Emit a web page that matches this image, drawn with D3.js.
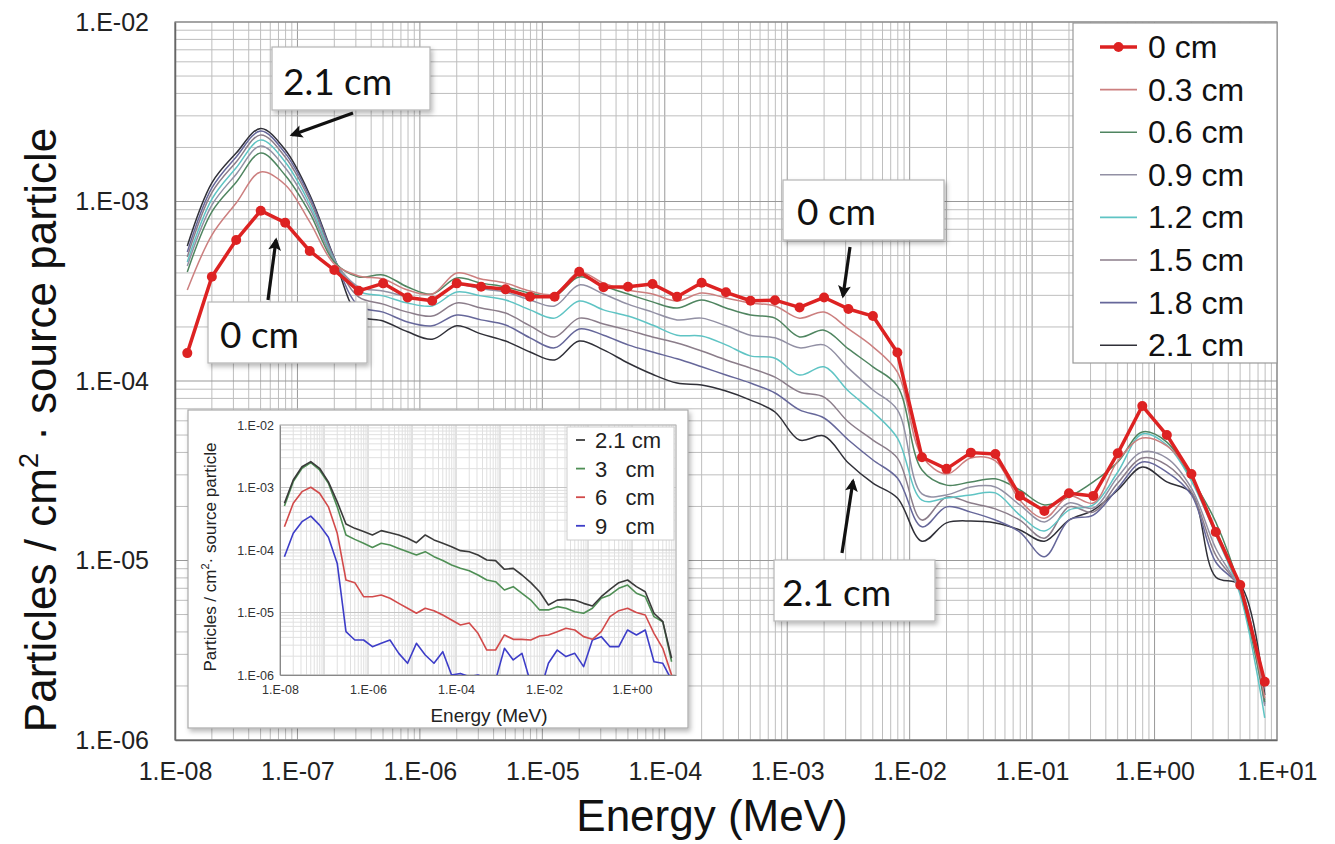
<!DOCTYPE html>
<html><head><meta charset="utf-8">
<script src="https://cdn.jsdelivr.net/npm/d3@7"></script>
<style>body{margin:0;background:#fff}svg{display:block}</style>
</head><body><svg id="c" width="1335" height="844"></svg>
<script>
// ---------- DATA ----------
const energies = [
 1.26e-8,2.00e-8,3.16e-8,5.01e-8,7.94e-8,
 1.26e-7,2.00e-7,3.16e-7,5.01e-7,7.94e-7,
 1.26e-6,2.00e-6,3.16e-6,5.01e-6,7.94e-6,
 1.26e-5,2.00e-5,3.16e-5,5.01e-5,7.94e-5,
 1.26e-4,2.00e-4,3.16e-4,5.01e-4,7.94e-4,
 1.26e-3,2.00e-3,3.16e-3,5.01e-3,7.94e-3,
 1.26e-2,2.00e-2,3.16e-2,5.01e-2,7.94e-2,
 1.26e-1,2.00e-1,3.16e-1,5.01e-1,7.94e-1,
 1.26e+0,2.00e+0,3.16e+0,5.01e+0,7.94e+0];

const depthLabels = ["0 cm","0.3 cm","0.6 cm","0.9 cm","1.2 cm","1.5 cm","1.8 cm","2.1 cm"];

const flux_0cm = [
 1.43e-4,3.81e-4,6.10e-4,8.89e-4,7.62e-4,5.30e-4,4.15e-4,3.18e-4,3.50e-4,2.92e-4,
 2.80e-4,3.50e-4,3.35e-4,3.24e-4,2.95e-4,2.95e-4,4.06e-4,3.33e-4,3.35e-4,3.47e-4,
 2.95e-4,3.53e-4,3.12e-4,2.80e-4,2.82e-4,2.57e-4,2.92e-4,2.52e-4,2.30e-4,1.44e-4,
 3.76e-5,3.24e-5,3.99e-5,3.92e-5,2.29e-5,1.89e-5,2.37e-5,2.29e-5,3.96e-5,7.26e-5,
 5.00e-5,3.03e-5,1.44e-5,7.31e-6,2.11e-6];
const flux_03cm = [
 3.21e-4,6.50e-4,9.81e-4,1.46e-3,1.24e-3,7.69e-4,4.49e-4,3.85e-4,3.70e-4,3.21e-4,
 3.05e-4,4.00e-4,3.70e-4,3.51e-4,3.17e-4,3.05e-4,4.05e-4,3.51e-4,3.21e-4,3.05e-4,
 2.79e-4,3.09e-4,2.90e-4,2.72e-4,2.62e-4,2.24e-4,2.42e-4,1.95e-4,1.55e-4,1.12e-4,
 3.82e-5,3.03e-5,3.72e-5,3.59e-5,2.17e-5,1.72e-5,2.29e-5,2.09e-5,3.59e-5,4.81e-5,
 4.35e-5,2.96e-5,1.48e-5,7.03e-6,1.71e-6];
const flux_06cm = [
 4.05e-4,8.76e-4,1.28e-3,1.86e-3,1.40e-3,8.63e-4,4.60e-4,3.80e-4,3.90e-4,3.34e-4,
 3.05e-4,3.75e-4,3.51e-4,3.34e-4,3.09e-4,2.98e-4,3.80e-4,3.38e-4,3.05e-4,2.76e-4,
 2.55e-4,2.83e-4,2.55e-4,2.33e-4,2.24e-4,1.76e-4,1.92e-4,1.51e-4,1.20e-4,9.37e-5,
 3.19e-5,2.63e-5,2.74e-5,2.85e-5,2.47e-5,2.04e-5,2.26e-5,2.74e-5,3.54e-5,5.20e-5,
 4.57e-5,2.88e-5,1.64e-5,6.85e-6,1.63e-6];
const flux_09cm = [
 4.37e-4,9.55e-4,1.42e-3,2.04e-3,1.54e-3,9.18e-4,4.66e-4,3.34e-4,3.17e-4,2.94e-4,
 2.83e-4,3.43e-4,3.26e-4,3.13e-4,2.83e-4,2.62e-4,3.43e-4,3.05e-4,2.68e-4,2.42e-4,
 2.19e-4,2.24e-4,2.03e-4,1.80e-4,1.74e-4,1.53e-4,1.59e-4,1.18e-4,8.91e-5,6.90e-5,
 2.35e-5,2.32e-5,2.57e-5,2.57e-5,2.04e-5,1.64e-5,2.09e-5,1.96e-5,2.92e-5,4.02e-5,
 3.72e-5,2.53e-5,1.17e-5,6.67e-6,1.55e-6];
const flux_12cm = [
 4.60e-4,1.03e-3,1.54e-3,2.20e-3,1.66e-3,9.67e-4,4.72e-4,3.17e-4,2.98e-4,2.72e-4,
 2.62e-4,3.13e-4,2.98e-4,2.83e-4,2.49e-4,2.24e-4,2.79e-4,2.49e-4,2.30e-4,2.05e-4,
 1.80e-4,1.78e-4,1.59e-4,1.38e-4,1.34e-4,1.08e-4,1.20e-4,8.79e-5,6.72e-5,4.81e-5,
 2.17e-5,2.23e-5,2.32e-5,2.38e-5,1.79e-5,1.46e-5,1.91e-5,2.04e-5,3.11e-5,5.07e-5,
 4.40e-5,2.77e-5,1.39e-5,6.42e-6,1.33e-6];
const flux_15cm = [
 4.91e-4,1.12e-3,1.66e-3,2.35e-3,1.77e-3,1.02e-3,4.78e-4,2.94e-4,2.68e-4,2.42e-4,
 2.30e-4,2.72e-4,2.55e-4,2.39e-4,2.03e-4,1.76e-4,2.24e-4,2.08e-4,1.92e-4,1.76e-4,
 1.63e-4,1.47e-4,1.31e-4,1.18e-4,1.05e-4,8.68e-5,8.14e-5,5.91e-5,4.69e-5,3.72e-5,
 1.68e-5,2.26e-5,2.09e-5,1.94e-5,1.68e-5,1.33e-5,1.99e-5,1.86e-5,2.70e-5,3.72e-5,
 3.40e-5,2.41e-5,1.07e-5,6.85e-6,1.67e-6];
const flux_18cm = [
 5.23e-4,1.19e-3,1.77e-3,2.47e-3,1.86e-3,1.06e-3,4.84e-4,2.62e-4,2.42e-4,2.13e-4,
 2.03e-4,2.33e-4,2.19e-4,2.05e-4,1.74e-4,1.53e-4,1.95e-4,1.80e-4,1.59e-4,1.45e-4,
 1.33e-4,1.20e-4,1.08e-4,9.74e-5,8.57e-5,6.90e-5,6.22e-5,4.69e-5,3.63e-5,2.88e-5,
 1.54e-5,1.99e-5,1.86e-5,1.68e-5,1.44e-5,1.05e-5,1.68e-5,1.79e-5,2.53e-5,3.54e-5,
 3.11e-5,2.32e-5,9.81e-6,7.03e-6,1.59e-6];
const flux_21cm = [
 5.65e-4,1.27e-3,1.86e-3,2.55e-3,1.94e-3,1.09e-3,4.84e-4,2.33e-4,2.16e-4,1.88e-4,
 1.71e-4,2.03e-4,1.83e-4,1.67e-4,1.45e-4,1.31e-4,1.67e-4,1.49e-4,1.26e-4,1.09e-4,
 9.74e-5,9.50e-5,8.79e-5,7.83e-5,6.72e-5,4.69e-5,4.94e-5,3.49e-5,2.70e-5,2.23e-5,
 1.28e-5,1.62e-5,1.66e-5,1.62e-5,1.48e-5,1.28e-5,1.68e-5,1.91e-5,2.47e-5,3.32e-5,
 2.74e-5,2.38e-5,8.09e-6,7.30e-6,1.78e-6];

// inset data
const insetLabels = ["2.1 cm","3   cm","6   cm","9   cm"];
const inset_21cm = [
 5.58e-4,1.32e-3,2.15e-3,2.59e-3,2.03e-3,1.23e-3,5.90e-4,2.61e-4,2.22e-4,1.97e-4,
 1.74e-4,2.04e-4,1.89e-4,1.74e-4,1.54e-4,1.31e-4,1.74e-4,1.45e-4,1.28e-4,1.13e-4,
 9.76e-5,9.40e-5,8.31e-5,6.93e-5,6.77e-5,4.91e-5,5.09e-5,3.98e-5,3.00e-5,2.15e-5,
 1.32e-5,1.58e-5,1.62e-5,1.58e-5,1.40e-5,1.27e-5,1.79e-5,2.35e-5,3.00e-5,3.31e-5,
 2.59e-5,2.15e-5,9.72e-6,7.13e-6,1.85e-6];
const inset_3cm = [
 5.06e-4,1.24e-3,2.03e-3,2.50e-3,1.91e-3,1.17e-3,4.90e-4,1.74e-4,1.48e-4,1.28e-4,
 1.10e-4,1.28e-4,1.20e-4,1.06e-4,9.40e-5,8.31e-5,9.40e-5,7.82e-5,6.77e-5,5.75e-5,
 5.09e-5,4.67e-5,3.98e-5,3.31e-5,3.11e-5,2.29e-5,2.59e-5,2.03e-5,1.58e-5,1.10e-5,
 1.10e-5,1.24e-5,1.17e-5,1.03e-5,9.72e-6,1.17e-5,1.69e-5,1.91e-5,2.44e-5,2.75e-5,
 2.03e-5,1.79e-5,8.58e-6,7.13e-6,1.63e-6];
const inset_6cm = [
 2.36e-4,5.58e-4,8.58e-4,1.01e-3,8.10e-4,4.90e-4,1.85e-4,3.30e-5,3.00e-5,1.79e-5,
 1.79e-5,1.91e-5,1.69e-5,1.40e-5,1.17e-5,9.72e-6,1.17e-5,1.07e-5,9.12e-6,7.58e-6,
 6.31e-6,6.81e-6,4.64e-6,2.51e-6,2.51e-6,4.37e-6,3.72e-6,3.72e-6,3.63e-6,4.21e-6,
 4.37e-6,4.94e-6,5.58e-6,5.25e-6,4.11e-6,3.72e-6,4.94e-6,8.58e-6,1.07e-5,1.17e-5,
 1.00e-5,9.12e-6,4.64e-6,2.67e-6,1.00e-6];
const inset_9cm = [
 7.82e-5,1.85e-4,2.84e-4,3.49e-4,2.50e-4,1.60e-4,6.10e-5,4.94e-6,3.63e-6,3.63e-6,
 2.84e-6,3.21e-6,3.63e-6,2.22e-6,1.54e-6,3.21e-6,2.09e-6,1.54e-6,2.36e-6,1.00e-6,
 1.06e-6,9.40e-7,1.00e-6,8.80e-7,8.30e-7,2.67e-6,1.74e-6,2.22e-6,7.30e-7,5.10e-7,
 1.54e-6,2.51e-6,1.97e-6,2.22e-6,1.36e-6,3.63e-6,4.11e-6,2.84e-6,2.84e-6,5.25e-6,
 4.37e-6,5.25e-6,1.63e-6,1.54e-6,8.30e-7];

const xDomain = [1e-8, 1e1];
const yDomain = [1e-6, 1e-2];
const xTickValues = [1e-8,1e-7,1e-6,1e-5,1e-4,1e-3,1e-2,1e-1,1e0,1e1];
const yTickValues = [1e-6,1e-5,1e-4,1e-3,1e-2];
const insetXTickValues = [1e-8,1e-6,1e-4,1e-2,1e0];

// ---------- DRAW ----------
const svg = d3.select('#c');
const defs = svg.append('defs');
const M = {l:175, r:1277, t:22, b:740};
const I = {l:280, r:676, t:425, b:675};
defs.append('clipPath').attr('id','clipMain').append('rect')
  .attr('x',M.l).attr('y',M.t).attr('width',M.r-M.l).attr('height',M.b-M.t);
defs.append('clipPath').attr('id','clipInset').append('rect')
  .attr('x',I.l).attr('y',I.t).attr('width',I.r-I.l).attr('height',I.b-I.t);
const flt = defs.append('filter').attr('id','shadow')
  .attr('x','-10%').attr('y','-10%').attr('width','125%').attr('height','130%');
flt.append('feDropShadow').attr('dx',2).attr('dy',3).attr('stdDeviation',2.5)
  .attr('flood-color','#000').attr('flood-opacity',0.28);
defs.append('marker').attr('id','arrow').attr('viewBox','0 0 10 10')
  .attr('refX',8).attr('refY',5).attr('markerWidth',4.2).attr('markerHeight',4)
  .attr('orient','auto').append('path').attr('d','M0,0 L10,5 L0,10 L2,5 z').attr('fill','#111');

svg.append('rect').attr('width',1335).attr('height',844).attr('fill','#fff');

const x = d3.scaleLog().domain(xDomain).range([M.l, M.r]);
const y = d3.scaleLog().domain(yDomain).range([M.b, M.t]);
const isMajor = v => Math.abs(Math.log10(v) - Math.round(Math.log10(v))) < 1e-6;
const fmtE = v => { const e = Math.round(Math.log10(v)); return '1.E' + (e < 0 ? '-' : '+') + String(Math.abs(e)).padStart(2,'0'); };

// grid
const g = svg.append('g');
x.ticks(40).forEach(v => {
  g.append('line').attr('x1',x(v)).attr('x2',x(v)).attr('y1',M.t).attr('y2',M.b)
   .attr('stroke', isMajor(v) ? '#999' : '#bebebe').attr('stroke-width',1);
});
y.ticks(40).forEach(v => {
  g.append('line').attr('y1',y(v)).attr('y2',y(v)).attr('x1',M.l).attr('x2',M.r)
   .attr('stroke', isMajor(v) ? '#999' : '#bebebe').attr('stroke-width',1);
});
g.append('rect').attr('x',M.l).attr('y',M.t).attr('width',M.r-M.l).attr('height',M.b-M.t)
 .attr('fill','none').attr('stroke','#8a8a8a').attr('stroke-width',1.2);

// axes
const tickFont = 'Liberation Sans, Arial, sans-serif';
const ax = svg.append('g').attr('transform',`translate(0,${M.b})`)
  .call(d3.axisBottom(x).tickValues(xTickValues).tickFormat(fmtE).tickSize(0).tickPadding(22));
ax.select('.domain').attr('stroke','#666').attr('stroke-width',1.5);
ax.selectAll('text').attr('font-family',tickFont).attr('font-size',25).attr('fill','#222');
const ay = svg.append('g').attr('transform',`translate(${M.l},0)`)
  .call(d3.axisLeft(y).tickValues(yTickValues).tickFormat(fmtE).tickSize(0).tickPadding(26));
ay.select('.domain').attr('stroke','#666').attr('stroke-width',1.5);
ay.selectAll('text').attr('font-family',tickFont).attr('font-size',25).attr('fill','#222');

// titles
svg.append('text').attr('x',712).attr('y',831).attr('text-anchor','middle')
  .attr('font-family',tickFont).attr('font-size',44).attr('fill','#111')
  .text('Energy (MeV)');
const yt = svg.append('text').attr('transform','translate(56,430) rotate(-90)').attr('text-anchor','middle')
  .attr('font-family',tickFont).attr('font-size',44).attr('fill','#111');
yt.append('tspan').text('Particles / cm');
yt.append('tspan').attr('font-size',27).attr('dy',-18).text('2');
yt.append('tspan').attr('dy',18).text(' \u00B7 source particle');

// series
const thin = [
  {label:depthLabels[7], data:flux_21cm, color:'#303038'},
  {label:depthLabels[6], data:flux_18cm, color:'#66679a'},
  {label:depthLabels[5], data:flux_15cm, color:'#8b7d8a'},
  {label:depthLabels[4], data:flux_12cm, color:'#5fc4c4'},
  {label:depthLabels[3], data:flux_09cm, color:'#9290a4'},
  {label:depthLabels[2], data:flux_06cm, color:'#4f8560'},
  {label:depthLabels[1], data:flux_03cm, color:'#cc7f7f'}
];
const red = '#dd2222';
const smooth = d3.line().x((d,i)=>x(energies[i])).y(d=>y(d)).curve(d3.curveCatmullRom.alpha(0.5));
const straight = d3.line().x((d,i)=>x(energies[i])).y(d=>y(d));
const sg = svg.append('g').attr('clip-path','url(#clipMain)');
thin.forEach(s => sg.append('path').attr('d',smooth(s.data)).attr('fill','none')
  .attr('stroke',s.color).attr('stroke-width',1.5));
sg.append('path').attr('d',straight(flux_0cm)).attr('fill','none').attr('stroke',red).attr('stroke-width',3.5)
  .attr('stroke-linejoin','round');
sg.selectAll('circle.m').data(flux_0cm).join('circle').attr('class','m')
  .attr('cx',(d,i)=>x(energies[i])).attr('cy',d=>y(d)).attr('r',5).attr('fill',red);

// annotation callouts
const font2 = 'Lato, Open Sans, sans-serif';
function callout(bx,by,bw,bh,tx,ty,txt){
  svg.append('rect').attr('x',bx).attr('y',by).attr('width',bw).attr('height',bh)
    .attr('fill','#fff').attr('stroke','#b5b5b5').attr('stroke-width',1.2).attr('filter','url(#shadow)');
  svg.append('text').attr('x',tx).attr('y',ty).attr('font-family',font2).attr('font-size',37)
    .attr('fill','#111').text(txt);
}
function arrow(x1,y1,x2,y2){
  svg.append('line').attr('x1',x1).attr('y1',y1).attr('x2',x2).attr('y2',y2)
    .attr('stroke','#111').attr('stroke-width',3.2).attr('marker-end','url(#arrow)');
}
callout(272,47,158,63,283,95,'2.1 cm');
callout(208,302,159,61,220,348,'0 cm');
callout(783,180,161,60,797,225,'0 cm');
callout(774,560,161,61,782,606,'2.1 cm');
arrow(353,113,292,135);
arrow(268,300,276,240);
arrow(850,247,843,296);
arrow(842,553,853,481);

// main legend
const lg = svg.append('g');
lg.append('rect').attr('x',1073).attr('y',23).attr('width',204).attr('height',340)
  .attr('fill','#fff').attr('stroke','#999').attr('stroke-width',1.2);
const legendItems = [{label:depthLabels[0], color:red, main:true}].concat(thin.slice().reverse());
legendItems.forEach((s,i) => {
  const cy = 47 + i*42.6;
  lg.append('line').attr('x1',1100).attr('x2',1137).attr('y1',cy).attr('y2',cy)
    .attr('stroke',s.color).attr('stroke-width', s.main ? 3.5 : 1.6);
  if (s.main) lg.append('circle').attr('cx',1118.5).attr('cy',cy).attr('r',5).attr('fill',red);
  lg.append('text').attr('x',1148).attr('y',cy+11).attr('font-family',tickFont)
    .attr('font-size',32).attr('fill','#111').text(s.label);
});

// ---------- INSET ----------
svg.append('rect').attr('x',188).attr('y',410).attr('width',500).attr('height',318)
  .attr('fill','#fff').attr('stroke','#aaa').attr('stroke-width',1.2).attr('filter','url(#shadow)');
const xi = d3.scaleLog().domain(xDomain).range([I.l, I.r]);
const yi = d3.scaleLog().domain(yDomain).range([I.b, I.t]);
const gi = svg.append('g');
xi.ticks(40).forEach(v => gi.append('line').attr('x1',xi(v)).attr('x2',xi(v)).attr('y1',I.t).attr('y2',I.b)
  .attr('stroke', isMajor(v) ? '#c4c4c4' : '#e0e0e0').attr('stroke-width',1));
yi.ticks(40).forEach(v => gi.append('line').attr('y1',yi(v)).attr('y2',yi(v)).attr('x1',I.l).attr('x2',I.r)
  .attr('stroke', isMajor(v) ? '#c4c4c4' : '#e0e0e0').attr('stroke-width',1));
const axi = svg.append('g').attr('transform',`translate(0,${I.b})`)
  .call(d3.axisBottom(xi).tickValues(insetXTickValues).tickFormat(fmtE).tickSize(0).tickPadding(10));
axi.select('.domain').attr('stroke','#888');
axi.selectAll('text').attr('font-family',tickFont).attr('font-size',12.5).attr('fill','#333');
const ayi = svg.append('g').attr('transform',`translate(${I.l},0)`)
  .call(d3.axisLeft(yi).tickValues(yTickValues).tickFormat(fmtE).tickSize(0).tickPadding(6));
ayi.select('.domain').attr('stroke','#888');
ayi.selectAll('text').attr('font-family',tickFont).attr('font-size',12.5).attr('fill','#333');
svg.append('text').attr('x',489).attr('y',722).attr('text-anchor','middle')
  .attr('font-family',tickFont).attr('font-size',19).attr('fill','#222').text('Energy (MeV)');
const yti = svg.append('text').attr('transform','translate(216,557) rotate(-90)').attr('text-anchor','middle')
  .attr('font-family',tickFont).attr('font-size',17).attr('fill','#222');
yti.append('tspan').text('Particles / cm');
yti.append('tspan').attr('font-size',11).attr('dy',-7).text('2');
yti.append('tspan').attr('dy',7).text('\u00B7 source particle');

const insetSeries = [
  {label:insetLabels[0], data:inset_21cm, color:'#3a3a3a'},
  {label:insetLabels[1], data:inset_3cm, color:'#4f8f55'},
  {label:insetLabels[2], data:inset_6cm, color:'#d24a4a'},
  {label:insetLabels[3], data:inset_9cm, color:'#3d3dc8'}
];
const lineI = d3.line().x((d,i)=>xi(energies[i])).y(d=>yi(d));
const sgi = svg.append('g').attr('clip-path','url(#clipInset)');
insetSeries.slice().reverse().forEach(s => sgi.append('path').attr('d',lineI(s.data)).attr('fill','none')
  .attr('stroke',s.color).attr('stroke-width',1.6).attr('stroke-linejoin','round'));
gi.append('rect').attr('x',I.l).attr('y',I.t).attr('width',I.r-I.l).attr('height',I.b-I.t)
  .attr('fill','none').attr('stroke','#bbb');

const lgi = svg.append('g');
lgi.append('rect').attr('x',567).attr('y',427).attr('width',107).attr('height',113)
  .attr('fill','#fff').attr('stroke','#ccc');
insetSeries.forEach((s,i) => {
  const cy = 440 + i*28.6;
  lgi.append('line').attr('x1',576).attr('x2',585).attr('y1',cy).attr('y2',cy).attr('stroke',s.color).attr('stroke-width',1.8);
  lgi.append('text').attr('x',595).attr('y',cy+8).attr('font-family',tickFont)
    .attr('font-size',22).attr('fill','#222').attr('xml:space','preserve').style('white-space','pre').text(s.label);
});
</script></body></html>
